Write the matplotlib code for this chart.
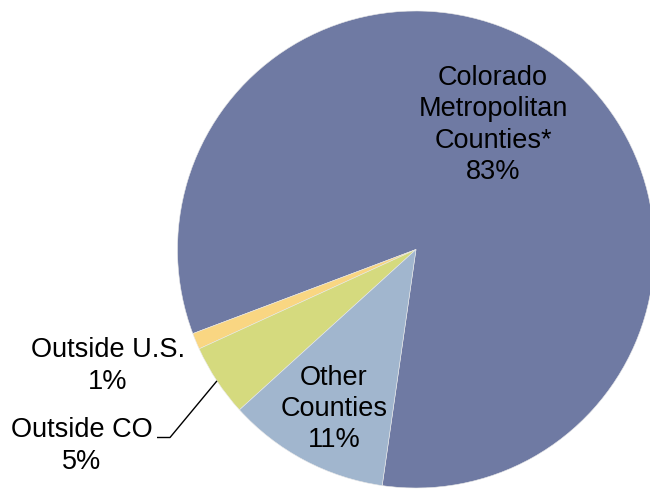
import numpy as np
import matplotlib.pyplot as plt

# share of total
categories = ["Colorado\nMetropolitan\nCounties*", "Outside U.S.", "Outside CO", "Other\nCounties"]
shares = [83.0, 1.1, 4.9, 11.0]
pct_labels = ["83%", "1%", "5%", "11%"]
colors = ["#6F7AA3", "#F9D682", "#D5DA7E", "#A1B6CE"]

plt.rcParams['font.family'] = ['Liberation Sans', 'DejaVu Sans']

W, H = 650, 491
fig = plt.figure(figsize=(W / 100, H / 100), dpi=100)
ax = fig.add_axes([0, 0, 1, 1])

cx, cy, r = 416, H - 249.5, 238.5
wedges, _ = ax.pie(shares, colors=colors, startangle=261.85, counterclock=True,
                   radius=r, center=(cx, cy),
                   wedgeprops=dict(linewidth=0.4, edgecolor="#e8e8e8"))
ax.set_xlim(0, W)
ax.set_ylim(0, H)
ax.set_aspect("equal")
ax.axis("off")

fs = 19.5
ls = 1.27
# labels inside / beside the slices
ax.text(493, H - 125, categories[0] + "\n" + pct_labels[0], ha="center", va="center",
        fontsize=fs, linespacing=ls)
ax.text(334, H - 409, categories[3] + "\n" + pct_labels[3], ha="center", va="center",
        fontsize=fs, linespacing=ls)
ax.text(108, H - 366, categories[1] + "\n" + pct_labels[1], ha="center", va="center",
        fontsize=fs, linespacing=ls)
ax.text(82, H - 446, categories[2] + "\n" + pct_labels[2], ha="center", va="center",
        fontsize=fs, linespacing=ls)

# leader line to the middle of the "Outside CO" slice rim
w = wedges[2]
mid = np.deg2rad((w.theta1 + w.theta2) / 2)
ex, ey = cx + r * np.cos(mid), cy + r * np.sin(mid)
ax.plot([157, 170, ex], [H - 437.5, H - 437.5, ey], color="black", lw=1.0,
        solid_capstyle="butt")

fig.savefig("out.png", dpi=100)
